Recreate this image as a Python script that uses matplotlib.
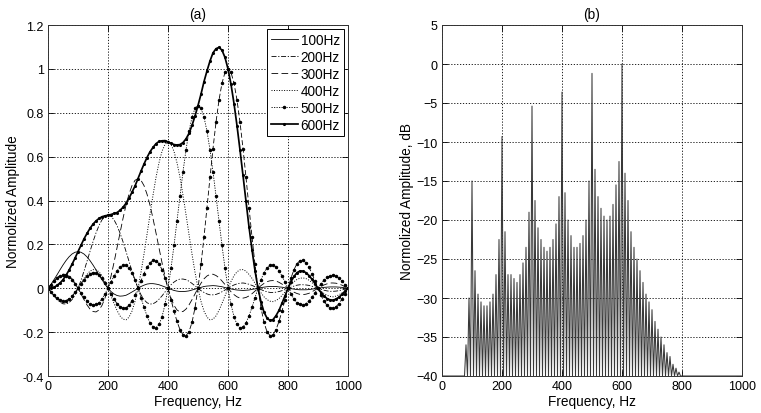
import numpy as np
import matplotlib
matplotlib.use("Agg")
import matplotlib.pyplot as plt

plt.rcParams['font.family'] = ['Liberation Sans', 'DejaVu Sans']

# ---------------- data, panel (a) ----------------
freq_a = np.arange(0, 1001, 10)

amp_100 = [0, 0.018, 0.039, 0.061, 0.084, 0.106, 0.126, 0.143, 0.156, 0.164, 0.167,
           0.164, 0.156, 0.143, 0.126, 0.106, 0.084, 0.061, 0.039, 0.018, 0,
           -0.015, -0.026, -0.033, -0.036, -0.035, -0.032, -0.025, -0.017, -0.009, 0,
           0.008, 0.014, 0.019, 0.021, 0.021, 0.019, 0.016, 0.011, 0.006, 0,
           -0.005, -0.010, -0.013, -0.015, -0.015, -0.014, -0.012, -0.008, -0.004, 0,
           0.004, 0.008, 0.010, 0.011, 0.012, 0.011, 0.009, 0.007, 0.003, 0,
           -0.003, -0.006, -0.008, -0.009, -0.010, -0.009, -0.008, -0.005, -0.003, 0,
           0.003, 0.005, 0.007, 0.008, 0.008, 0.008, 0.006, 0.005, 0.002, 0,
           -0.002, -0.004, -0.006, -0.007, -0.007, -0.007, -0.006, -0.004, -0.002, 0,
           0.002, 0.004, 0.005, 0.006, 0.006, 0.006, 0.005, 0.004, 0.002, 0]

amp_200 = [0, -0.017, -0.035, -0.050, -0.063, -0.071, -0.072, -0.066, -0.052, -0.030,
           0, 0.036, 0.078, 0.123, 0.168, 0.212, 0.252, 0.286, 0.312, 0.328, 0.333,
           0.328, 0.312, 0.286, 0.252, 0.212, 0.168, 0.123, 0.078, 0.036, 0,
           -0.030, -0.052, -0.066, -0.072, -0.071, -0.063, -0.050, -0.035, -0.017, 0,
           0.016, 0.028, 0.037, 0.042, 0.042, 0.039, 0.032, 0.022, 0.011, 0,
           -0.011, -0.019, -0.026, -0.030, -0.030, -0.028, -0.023, -0.016, -0.008, 0,
           0.008, 0.015, 0.020, 0.023, 0.024, 0.022, 0.018, 0.013, 0.007, 0,
           -0.006, -0.012, -0.016, -0.019, -0.019, -0.018, -0.015, -0.011, -0.006, 0,
           0.005, 0.010, 0.014, 0.016, 0.016, 0.015, 0.013, 0.009, 0.005, 0,
           -0.005, -0.009, -0.012, -0.014, -0.014, -0.013, -0.011, -0.008, -0.004, 0]

amp_300 = [0, 0.017, 0.033, 0.048, 0.058, 0.064, 0.063, 0.056, 0.043, 0.023,
           0, -0.026, -0.052, -0.076, -0.095, -0.106, -0.108, -0.099, -0.078, -0.045,
           0, 0.055, 0.117, 0.184, 0.252, 0.318, 0.379, 0.429, 0.468, 0.492, 0.500,
           0.492, 0.468, 0.429, 0.379, 0.318, 0.252, 0.184, 0.117, 0.055, 0,
           -0.045, -0.078, -0.099, -0.108, -0.106, -0.095, -0.076, -0.052, -0.026, 0,
           0.023, 0.043, 0.056, 0.063, 0.064, 0.058, 0.048, 0.033, 0.017, 0,
           -0.016, -0.029, -0.039, -0.045, -0.045, -0.042, -0.035, -0.025, -0.013, 0,
           0.012, 0.022, 0.030, 0.034, 0.035, 0.033, 0.027, 0.019, 0.010, 0,
           -0.010, -0.018, -0.024, -0.028, -0.029, -0.027, -0.023, -0.016, -0.008, 0,
           0.008, 0.015, 0.020, 0.024, 0.024, 0.023, 0.019, 0.014, 0.007, 0]

amp_400 = [0, -0.017, -0.033, -0.047, -0.056, -0.061, -0.059, -0.052, -0.039, -0.021,
           0, 0.023, 0.045, 0.063, 0.078, 0.085, 0.084, 0.075, 0.057, 0.031,
           0, -0.035, -0.069, -0.101, -0.126, -0.141, -0.144, -0.132, -0.104, -0.060,
           0, 0.073, 0.156, 0.245, 0.336, 0.424, 0.505, 0.572, 0.624, 0.656, 0.667,
           0.656, 0.624, 0.572, 0.505, 0.424, 0.336, 0.245, 0.156, 0.073, 0,
           -0.060, -0.104, -0.132, -0.144, -0.141, -0.126, -0.101, -0.069, -0.035, 0,
           0.031, 0.057, 0.075, 0.084, 0.085, 0.078, 0.063, 0.045, 0.023, 0,
           -0.021, -0.039, -0.052, -0.059, -0.061, -0.056, -0.047, -0.033, -0.017, 0,
           0.016, 0.030, 0.040, 0.046, 0.047, 0.044, 0.037, 0.026, 0.013, 0,
           -0.013, -0.024, -0.032, -0.037, -0.039, -0.036, -0.030, -0.021, -0.011, 0]

amp_500 = [0, 0.017, 0.032, 0.046, 0.055, 0.059, 0.057, 0.050, 0.037, 0.020,
           0, -0.021, -0.041, -0.058, -0.070, -0.076, -0.074, -0.065, -0.049, -0.026,
           0, 0.028, 0.056, 0.079, 0.097, 0.106, 0.105, 0.093, 0.071, 0.039,
           0, -0.043, -0.087, -0.126, -0.158, -0.177, -0.180, -0.165, -0.130, -0.074,
           0, 0.091, 0.195, 0.307, 0.420, 0.531, 0.631, 0.715, 0.780, 0.820, 0.833,
           0.820, 0.780, 0.715, 0.631, 0.531, 0.420, 0.307, 0.195, 0.091, 0,
           -0.074, -0.130, -0.165, -0.180, -0.177, -0.158, -0.126, -0.087, -0.043, 0,
           0.039, 0.071, 0.093, 0.105, 0.106, 0.097, 0.079, 0.056, 0.028, 0,
           -0.026, -0.049, -0.065, -0.074, -0.076, -0.070, -0.058, -0.041, -0.021, 0,
           0.020, 0.037, 0.050, 0.057, 0.059, 0.055, 0.046, 0.032, 0.017, 0]

amp_600 = [0, -0.017, -0.032, -0.045, -0.054, -0.058, -0.056, -0.049, -0.036, -0.019,
           0, 0.020, 0.039, 0.055, 0.066, 0.071, 0.069, 0.060, 0.045, 0.024,
           0, -0.025, -0.049, -0.070, -0.084, -0.091, -0.089, -0.078, -0.058, -0.032,
           0, 0.034, 0.067, 0.095, 0.116, 0.127, 0.126, 0.112, 0.085, 0.047,
           0, -0.052, -0.104, -0.151, -0.189, -0.212, -0.216, -0.198, -0.156, -0.089,
           0, 0.109, 0.234, 0.368, 0.505, 0.637, 0.757, 0.858, 0.935, 0.984, 1.000,
           0.984, 0.935, 0.858, 0.757, 0.637, 0.505, 0.368, 0.234, 0.109, 0,
           -0.089, -0.156, -0.198, -0.216, -0.212, -0.189, -0.151, -0.104, -0.052, 0,
           0.047, 0.085, 0.112, 0.126, 0.127, 0.116, 0.095, 0.067, 0.034, 0,
           -0.032, -0.058, -0.078, -0.089, -0.091, -0.084, -0.070, -0.049, -0.025, 0]

legend_labels = ['100Hz', '200Hz', '300Hz', '400Hz', '500Hz', '600Hz']

# ---------------- data, panel (b) ----------------
spike_freq = np.arange(70, 801, 10)
spike_db = [-40, -36, -30, -15, -26.5, -29.5, -30.5, -31, -31, -30.5,
            -29.5, -27, -22.5, -9.3, -21.5, -27, -27, -27.5, -28, -27,
            -25.5, -23.5, -19, -5.4, -17.5, -21, -22.5, -23.5, -24, -23.5,
            -22.5, -20.5, -17, -3.6, -16.5, -20, -22, -23.5, -23.5, -23,
            -22, -20, -15, -1.2, -13.5, -17, -18.5, -19.5, -20, -19.5,
            -18, -15.5, -12.5, 0, -14, -17.5, -21.5, -23.5, -25, -26.5,
            -28, -29.5, -30.5, -31.5, -33, -34, -35, -36, -37, -37.5,
            -38.5, -39, -39.5, -40]
floor_db = -40

# ---------------- figure ----------------
fig = plt.figure(figsize=(7.61, 4.14), dpi=100)
ax1 = fig.add_axes([48 / 761, 37 / 414, 300 / 761, 351 / 414])
ax2 = fig.add_axes([442 / 761, 37 / 414, 300 / 761, 351 / 414])

components = [np.array(a) for a in (amp_100, amp_200, amp_300, amp_400, amp_500, amp_600)]
total = np.sum(components, axis=0)

h1, = ax1.plot(freq_a, components[0], color='k', lw=0.6, linestyle='-')
h2, = ax1.plot(freq_a, components[1], color='k', lw=0.6, linestyle=(0, (6, 2, 1.5, 2)))
h3, = ax1.plot(freq_a, components[2], color='k', lw=0.6, linestyle=(0, (8, 4)))
h4, = ax1.plot(freq_a, components[3], color='k', lw=0.7, linestyle=(0, (1, 1.6)))
h5, = ax1.plot(freq_a, components[4], color='k', lw=0.6, linestyle=(0, (1.5, 1.5)),
               marker='.', markersize=3)
h6, = ax1.plot(freq_a, components[5], color='k', lw=0.6, linestyle=(0, (6, 3)),
               marker='.', markersize=3)
hs, = ax1.plot(freq_a, total, color='k', lw=1.25, linestyle='-', marker='.', markersize=2.5)

fs_tick = 9
fs_lab = 9.8

for ax in (ax1, ax2):
    ax.set_xlim(0, 1000)
    ax.set_xticks(np.arange(0, 1001, 200))
    ax.grid(True, color='k', lw=0.6, linestyle=(0, (1.5, 2)))
    ax.tick_params(direction='in', top=True, right=True, length=4, width=0.6,
                   labelsize=fs_tick, pad=3)
    for sp in ax.spines.values():
        sp.set_linewidth(0.7)
        sp.set_color('#333333')
    ax.set_xlabel('Frequency, Hz', fontsize=fs_lab, labelpad=1)

ax1.set_ylim(-0.4, 1.2)
ax1.set_yticks(np.round(np.arange(-0.4, 1.21, 0.2), 1))
ax1.set_yticklabels(['%g' % v for v in np.round(np.arange(-0.4, 1.21, 0.2), 1)])
ax1.set_ylabel('Normolized Amplitude', fontsize=fs_lab, labelpad=2)
ax1.set_title('(a)', fontsize=fs_lab, pad=5)

leg = ax1.legend([h1, h2, h3, h4, h5, hs], legend_labels, loc='upper right',
                 fontsize=fs_lab, frameon=True, fancybox=False, framealpha=1,
                 edgecolor='k', borderaxespad=0.3, labelspacing=0.22,
                 handlelength=2.0, handletextpad=0.2, borderpad=0.3, numpoints=1)
leg.get_frame().set_linewidth(0.7)

# panel (b): spectrum drawn as spikes rising from the floor
xs = [0]
ys = [floor_db]
for f, v in zip(spike_freq, spike_db):
    xs += [f - 5, f]
    ys += [floor_db, v]
xs += [spike_freq[-1] + 5, 1000]
ys += [floor_db, floor_db]
ax2.plot(xs, ys, color='#383838', lw=0.75)

ax2.set_ylim(-40, 5)
ax2.set_yticks(np.arange(-40, 6, 5))
ax2.set_ylabel('Normolized Amplitude, dB', fontsize=fs_lab, labelpad=2)
ax2.set_title('(b)', fontsize=fs_lab, pad=5)

fig.savefig('out.png', dpi=100)
